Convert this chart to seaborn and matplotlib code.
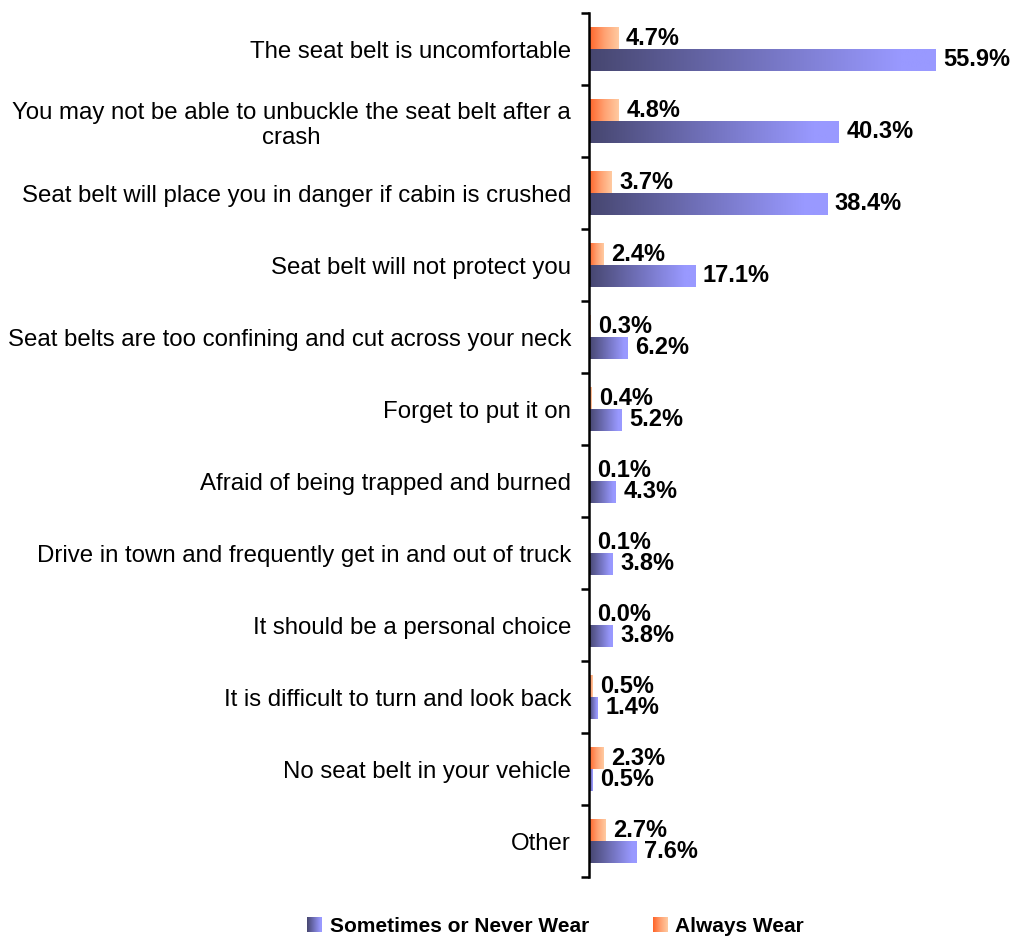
import numpy as np
import pandas as pd
import matplotlib
matplotlib.use("Agg")
import matplotlib.pyplot as plt
import seaborn as sns
from matplotlib.colors import LinearSegmentedColormap

categories = [
    "The seat belt is uncomfortable",
    "You may not be able to unbuckle the seat belt after a\ncrash",
    "Seat belt will place you in danger if cabin is crushed",
    "Seat belt will not protect you",
    "Seat belts are too confining and cut across your neck",
    "Forget to put it on",
    "Afraid of being trapped and burned",
    "Drive in town and frequently get in and out of truck",
    "It should be a personal choice",
    "It is difficult to turn and look back",
    "No seat belt in your vehicle",
    "Other",
]
sometimes_never = [55.9, 40.3, 38.4, 17.1, 6.2, 5.2, 4.3, 3.8, 3.8, 1.4, 0.5, 7.6]
always = [4.7, 4.8, 3.7, 2.4, 0.3, 0.4, 0.1, 0.1, 0.0, 0.5, 2.3, 2.7]
series_names = ["Sometimes or Never Wear", "Always Wear"]

sns.set_theme(style="white")
plt.rcParams["font.family"] = ["Liberation Sans", "DejaVu Sans"]
plt.rcParams["text.color"] = "black"
plt.rcParams["ytick.color"] = "black"
plt.rcParams["ytick.labelcolor"] = "black"

df = pd.DataFrame({
    "category": categories * 2,
    "value": always + sometimes_never,
    "series": [series_names[1]] * len(categories) + [series_names[0]] * len(categories),
})

purple_cmap = LinearSegmentedColormap.from_list(
    "pur", [(0, "#46466f"), (0.5, "#7474c0"), (0.9, "#9999ff"), (1, "#9999ff")])
orange_cmap = LinearSegmentedColormap.from_list(
    "org", [(0, "#ff6328"), (0.5, "#ffa070"), (1, "#ffcba2")])

fig = plt.figure(figsize=(10.12, 9.39), dpi=100)
ax = fig.add_axes([589 / 1012, 1 - 877 / 939, 372 / 1012, 864 / 939])

sns.barplot(data=df, x="value", y="category", hue="series",
            hue_order=[series_names[1], series_names[0]],
            order=categories, orient="h", width=0.6, gap=0,
            palette=["#ff9966", "#9999ff"], legend=False, ax=ax)

grad = np.linspace(0, 1, 256).reshape(1, -1)
cmaps = [orange_cmap, purple_cmap]
for cont, cmap in zip(ax.containers, cmaps):
    for p in cont.patches:
        x0 = p.get_x()
        w = p.get_width()
        y0 = p.get_y()
        h = p.get_height()
        p.set_facecolor("none")
        p.set_edgecolor("none")
        if w > 0:
            ax.imshow(grad, extent=[x0, x0 + w, y0 + h, y0], aspect="auto",
                      cmap=cmap, zorder=2, interpolation="bilinear")
        ax.annotate(f"{w:.1f}%", xy=(x0 + w, y0 + h / 2), xytext=(5.5, 0),
                    textcoords="offset points", va="center", ha="left",
                    fontsize=17, fontweight="bold", color="black", zorder=3)

ax.set_xlim(0, 60)
ax.set_ylim(len(categories) - 0.5, -0.5)
ax.set_xlabel("")
ax.set_ylabel("")
ax.set_xticks([])
ax.set_yticks(range(len(categories)))
ax.set_yticklabels(categories, fontsize=17.3, multialignment="center", color="black")
ax.tick_params(axis="y", which="major", length=0, pad=13)
ax.set_yticks(np.arange(-0.5, len(categories), 1), minor=True)
ax.tick_params(axis="y", which="minor", length=6, width=1.8, color="black",
               direction="out", left=True)
for s in ["top", "right", "bottom"]:
    ax.spines[s].set_visible(False)
ax.spines["left"].set_color("black")
ax.spines["left"].set_linewidth(1.8)
ax.grid(False)

# legend
sq = 15
legend_items = [(series_names[0], purple_cmap, 307, 330), (series_names[1], orange_cmap, 653, 675)]
for name, cmap, xs, xt in legend_items:
    lax = fig.add_axes([xs / 1012, 1 - 932 / 939, sq / 1012, sq / 939])
    lax.imshow(grad, aspect="auto", cmap=cmap, extent=[0, 1, 0, 1])
    lax.set_axis_off()
    fig.text(xt / 1012, 1 - 926 / 939, name, fontsize=15, fontweight="bold",
             va="center", ha="left", color="black")

fig.savefig("out.png", dpi=100)
